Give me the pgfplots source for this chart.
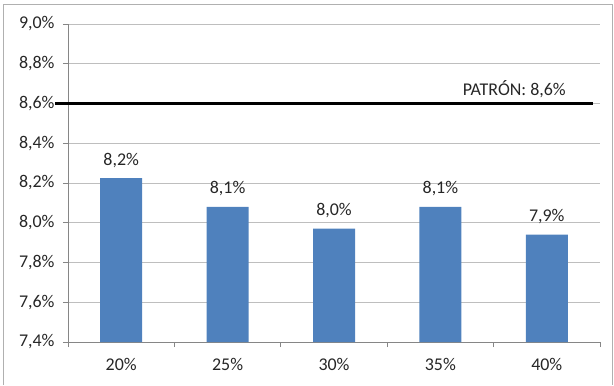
\documentclass[border=0pt]{standalone}
\usepackage{fontspec}
\setmainfont{Carlito}
\usepackage{pgfplots}
\pgfplotsset{compat=1.18}
\definecolor{barblue}{HTML}{4F81BD}
\definecolor{gridgray}{HTML}{BEBEBE}
\definecolor{axgray}{HTML}{868686}
\definecolor{txt}{HTML}{262626}
\definecolor{framegray}{HTML}{B0B0B0}
\begin{document}
\begin{tikzpicture}[x=1bp,y=1bp]
\useasboundingbox (-68,-43) rectangle (546,342);
\draw[framegray, line width=1bp] (-64,-43) -- (-64,337) -- (544,337) -- (544,-43);
\begin{axis}[
  at={(0,0)}, anchor=south west,
  scale only axis, width=532bp, height=318bp,
  xmin=-0.5, xmax=4.5, ymin=7.4, ymax=9.0,
  /pgf/number format/assume math mode=true,
  ytick={7.4,7.6,7.8,8.0,8.2,8.4,8.6,8.8,9.0},
  yticklabel={\pgfmathprintnumber[fixed,fixed zerofill,precision=1,use comma]{\tick}\%},
  xtick={0,1,2,3,4},
  xticklabels={20\%,25\%,30\%,35\%,40\%},
  minor xtick={-0.5,0.5,1.5,2.5,3.5,4.5},
  major x tick style={draw=none},
  minor tick length=5bp, major tick length=5bp,
  tick align=outside,
  axis x line*=bottom, axis y line*=left,
  axis line style={axgray, line width=0.8bp},
  tick style={axgray, line width=0.8bp},
  ymajorgrids, grid style={gridgray, line width=0.8bp},
  tick label style={font=\fontsize{18}{21}\selectfont, text=txt},
  xticklabel style={yshift=-8bp},
  yticklabel style={xshift=-5bp},
  clip=false,
  ybar, bar width=42bp,
  nodes near coords={\pgfmathprintnumber[fixed,fixed zerofill,precision=1,use comma]{\pgfplotspointmeta}\%},
  point meta=y,
  every node near coord/.style={font=\fontsize{18}{21}\selectfont, text=txt, anchor=base, yshift=13bp},
]
\addplot[fill=barblue, draw=none] coordinates {(0,8.225) (1,8.08) (2,7.97) (3,8.08) (4,7.94)};
\addplot[sharp plot, black, line width=3.5bp, nodes near coords={}, forget plot] coordinates {(-0.62,8.6) (4.43,8.6)};
\node[anchor=base east, font=\fontsize{18}{21}\selectfont, text=txt, inner sep=0pt] at (axis cs:4.18,8.64) {PATRÓN: 8,6\%};
\end{axis}
\end{tikzpicture}
\end{document}
